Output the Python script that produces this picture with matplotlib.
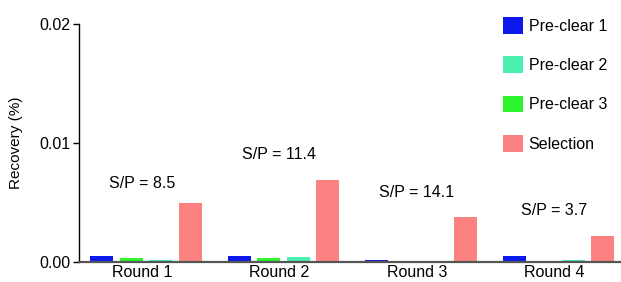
import numpy as np
import matplotlib.pyplot as plt
from matplotlib.patches import Patch

plt.rcParams['font.family'] = ['Liberation Sans', 'DejaVu Sans']

rounds = ["Round 1", "Round 2", "Round 3", "Round 4"]
pre_clear_1 = [0.0005, 0.0005, 0.0002, 0.0005]
pre_clear_3 = [0.0003, 0.00035, 0.0001, 0.0001]
pre_clear_2 = [0.0002, 0.00045, 0.0001, 0.00015]
selection = [0.0050, 0.0069, 0.0038, 0.0022]
sp_ratio = ["8.5", "11.4", "14.1", "3.7"]
sp_height = [0.0066, 0.0090, 0.0058, 0.0043]

colors = {"Pre-clear 1": "#0b18ee", "Pre-clear 2": "#4cf0b0",
          "Pre-clear 3": "#2cf52c", "Selection": "#fc8282"}

fig = plt.figure(figsize=(6.21, 2.82), dpi=100)
ax = fig.add_axes([79 / 621, 20 / 282, 1 - 79 / 621, 238 / 282])

x = np.arange(len(rounds))
pitch = 0.215
width = 0.168
series = [(pre_clear_1, "Pre-clear 1"), (pre_clear_3, "Pre-clear 3"),
          (pre_clear_2, "Pre-clear 2"), (selection, "Selection")]
for i, (vals, name) in enumerate(series):
    ax.bar(x + (i - 1.5) * pitch, vals, width, color=colors[name], zorder=2)

for xi, r, h in zip(x, sp_ratio, sp_height):
    ax.text(xi - 0.03, h, "S/P = " + r, ha="center", va="center", fontsize=11.5)

ax.set_xlim(-0.487, 3.455)
ax.set_ylim(0, 0.02)
ax.set_yticks([0, 0.01, 0.02])
ax.set_yticklabels(["0.00", "0.01", "0.02"], fontsize=11.5)
ax.set_xticks(x - 0.03)
ax.set_xticklabels(rounds, fontsize=11.5)
ax.tick_params(axis="x", length=0, pad=2)
ax.tick_params(axis="y", length=4, width=1, pad=2)
ax.set_ylabel("Recovery (%)", fontsize=11, labelpad=12)

ax.spines["top"].set_visible(False)
ax.spines["right"].set_visible(False)
ax.spines["left"].set_linewidth(1)
ax.spines["bottom"].set_linewidth(1.6)
ax.spines["bottom"].set_color("#555555")

handles = [Patch(facecolor=colors[n], label=n) for n in
           ["Pre-clear 1", "Pre-clear 2", "Pre-clear 3", "Selection"]]
fig.legend(handles=handles, loc="upper left", bbox_to_anchor=(503 / 621, 1 - 17 / 282),
           frameon=False, fontsize=11.5, handlelength=1.25, handleheight=1.25,
           labelspacing=1.4, handletextpad=0.35, borderpad=0, borderaxespad=0)

fig.savefig("out.png", dpi=100)
